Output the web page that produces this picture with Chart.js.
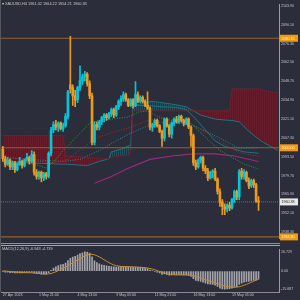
<!DOCTYPE html>
<html><head><meta charset="utf-8">
<script src="https://cdn.jsdelivr.net/npm/chart.js"></script>
<style>
html,body{margin:0;padding:0;background:#2b2d3a;overflow:hidden;}
#wrap{position:relative;width:300px;height:300px;background:#2b2d3a;}
#c1{position:absolute;left:0;top:0;}
#c2{position:absolute;left:0;top:245px;}
.t{position:absolute;font:8px "Liberation Sans",Arial,sans-serif;color:#c8c8c8;transform:scale(0.48);transform-origin:0 0;white-space:nowrap;}
.sep{position:absolute;left:0;width:280px;}
</style></head>
<body><div id="wrap">
<canvas id="c1" width="300" height="243"></canvas>
<canvas id="c2" width="300" height="55"></canvas>
<div class="sep" style="top:243px;height:1px;background:#8c8c92"></div>
<div class="sep" style="top:245px;height:1px;background:#a4a4aa"></div>
<div style="position:absolute;left:0;top:0;width:1px;height:292px;background:#55575f"></div>
<div class="t" style="left:2px;top:2px">▾ XAUUSD,H4 1961.02 1964.22 1954.21 1960.38</div>
<div class="t" style="left:2px;top:247px">MACD(12,26,9) -6.948 -4.739</div>
</div>
<script>
// ---------- DATA ----------
const openP = [1999,1992,1988,1991,1986,1989,1984,1988,1990,1987,
 1991,1993,1990,1995,1982,1979,1982,1978,1981,1979,
 1996,2013,2017,2015,2018,2014,2016,2023,2046,2044,
 2038,2035,2044,2049,2052,2054,2047,2038,2004,2017,
 2015,2019,2022,2024,2022,2025,2028,2024,2030,2034,
 2036,2039,2035,2031,2035,2031,2039,2034,2037,2034,
 2031,2029,2015,2017,2020,2016,2012,2007,2021,2016,
 2010,2018,2021,2019,2023,2020,2018,2021,2015,2009,
 1989,1986,1991,1993,1985,1983,1978,1982,1983,1977,
 1968,1960,1957,1955,1958,1956,1962,1968,1964,1983,
 1979,1982,1976,1972,1976,1973,1961.02];
const closeP = [1992,1988,1991,1986,1989,1984,1988,1990,1987,1991,
 1993,1990,1995,1982,1979,1982,1978,1981,1979,1996,
 2013,2017,2015,2018,2014,2016,2023,2041,2043,2038,
 2035,2044,2049,2052,2054,2047,2038,2004,2017,2015,
 2019,2022,2024,2022,2025,2028,2024,2030,2034,2036,
 2039,2035,2031,2035,2031,2039,2034,2037,2034,2031,
 2029,2015,2017,2020,2016,2012,2007,2021,2016,2010,
 2018,2021,2019,2023,2020,2018,2021,2015,2009,1989,
 1986,1991,1993,1985,1983,1978,1982,1983,1977,1968,
 1960,1957,1955,1958,1956,1962,1968,1964,1983,1979,
 1982,1976,1972,1976,1973,1961,1960.38];
const highP = [2001,1994,1993,1992,1990,1990,1989,1993,1991,1992,
 1996,1994,1998,1997,1984,1983,1983,1982,1982,1997,
 2015,2019,2020,2019,2019,2018,2025,2042,2081.5,2046,
 2042,2045,2060,2054,2056,2055,2049,2040,2019,2019,
 2020,2023,2025,2025,2026,2029,2029,2031,2035,2038,
 2041,2040,2036,2036,2036,2048.5,2041,2038,2038,2035,
 2041,2030,2018,2021,2021,2017,2013,2022,2022,2017,
 2019,2022,2023,2024,2024,2021,2022,2022,2016,2010,
 1991,1992,1994,1994,1987,1985,1983,1984,1985,1978,
 1970,1962,1959,1959,1960,1963,1969,1969,1984,1985,
 1984,1983,1978,1977,1977,1974,1964.22];
const lowP = [1990,1986,1987,1984,1984,1982,1983,1987,1985,1986,
 1990,1988,1989,1980,1977,1977,1975,1976,1977,1978,
 1994,2011,2013,2012,2013,2012,2015,2021,2040,2031,
 2030,2033,2042,2046,2049,2045,2036,2002,2002,2013,
 2013,2017,2019,2020,2021,2023,2022,2023,2028,2031,
 2034,2034,2030,2030,2029,2030,2033,2033,2033,2030,
 2028,2013,2012,2015,2015,2011,2001,2005,2015,2008,
 2007,2016,2018,2018,2019,2016,2017,2014,2001,1987,
 1984,1985,1989,1983,1981,1976,1977,1978,1976,1966,
 1957,1951,1951,1953,1954,1955,1960,1962,1962,1977,
 1977,1975,1970,1971,1971,1960,1954.21];

// moving averages (bar index, value)
const maFastIdx = [0,5,10,15,18,22,25,30,36,40,45,52,56,60,63,67,72,78,82,85,90,96,100,106];
const maFastVal = [1992,1990,1989,1987,1985,1991.5,1998,2007,2018,2020,2021,2022.5,2026,2027,2024,2021,2019,2018,2011,2006,1998,1992,1988,1984.4];
const maMidIdx = [0,10,20,27,33,40,47,53,60,65,72,79,85,90,98,106];
const maMidVal = [1994,1991,1989,1991.5,2000,2008,2012,2015,2020,2022,2020,2016,2011,2005,1996.5,1993.7];
const maSlowIdx = [0,15,25,32,40,47,53,60,65,72,79,89,98,106];
const maSlowVal = [1993,1991,1990,1991.5,1998,2005,2010.7,2016,2018.6,2018,2016.4,2008,1999.5,2000];
const maLongIdx = [38,45,52,61,70,79,88,96,106];
const maLongVal = [1974,1979,1985,1991.5,1994,1995.5,1995.5,1994,1990];
// ichimoku
const cloudIdx = [0,10,25,26,35,40,44,45,49,53,54,62,70,76,82,88,94,95,98,102,107,108,114];
const spanA = [1990,1989,1988,1988,1987,1990,1992,1997,1999,2002,2031,2034,2032,2030,2024,2021,2020,2020,2019,2012,2005,2004,1998];
const spanB = [2009,2009,2009,1994,1993,1992,1992,1993,1994,1995,2027,2027,2027,2027,2027,2027,2027,2043,2043,2043,2043,2042,2040];
const kijunIdx = [54,60,66,72,76,80,84,88,92,96,100,106];
const kijunVal = [2031,2031,2030,2029.5,2028,2021,2013,2005,2001,1999,1997,1996];

const levelVals = [2080.15, 2000.00, 1934.80];
const lastPrice = 1960.38;
const tagVals = [2080.15, 2000.00, 1960.38, 1934.80];
const tagText = ['2080.15','2000.00','1960.38','1934.80'];
const yTicks = [2103.90,2090.10,2076.30,2062.50,2048.70,2034.90,2021.10,2007.30,1993.50,1979.70,1965.90,1952.10,1938.30];

const macdMain = [-0.5,-0.8,-1.0,-1.3,-1.4,-1.6,-1.6,-1.5,-1.5,-1.4,
 -1.2,-1.1,-0.8,-1.4,-2.0,-2.3,-2.6,-2.6,-2.6,-1.3,
 0.8,2.6,3.8,4.9,5.4,5.9,6.9,9.2,11.2,12.3,
 12.9,14.0,15.2,16.0,16.7,16.5,15.6,12.4,9.0,7.5,
 6.3,5.5,5.0,4.5,4.2,4.0,3.7,3.6,3.8,4.0,
 4.2,4.0,3.7,3.5,3.2,3.5,3.3,3.2,3.0,2.6,
 2.2,1.0,0.3,-0.3,-0.9,-1.6,-2.8,-2.4,-2.8,-3.6,
 -3.4,-3.1,-3.1,-2.9,-3.0,-3.3,-3.2,-3.7,-4.6,-6.6,
 -8.0,-8.5,-8.9,-9.7,-10.4,-11.2,-11.4,-11.6,-12.2,-13.4,
 -14.8,-15.5,-15.7,-15.5,-15.3,-14.8,-14.0,-13.6,-11.6,-10.4,
 -9.6,-9.2,-9.0,-8.5,-8.1,-7.6,-6.9];
const macdSignal = [0.3,0.1,-0.1,-0.3,-0.5,-0.7,-0.9,-1.0,-1.2,-1.3,
 -1.4,-1.4,-1.5,-1.7,-1.9,-2.1,-2.3,-2.4,-2.5,-2.4,
 -2.0,-1.4,-0.6,0.4,1.4,2.4,3.5,4.7,6.0,7.3,
 8.5,9.8,11.0,12.2,13.3,14.1,14.6,14.6,14.2,13.4,
 12.4,11.2,9.9,8.6,7.4,6.3,5.4,4.8,4.4,4.1,
 4.0,3.9,3.9,3.8,3.7,3.6,3.5,3.4,3.2,3.0,
 2.7,2.3,1.8,1.2,0.5,-0.3,-1.0,-1.6,-2.2,-2.7,
 -3.0,-3.2,-3.3,-3.3,-3.3,-3.3,-3.3,-3.4,-3.6,-4.1,
 -4.7,-5.4,-6.1,-6.8,-7.5,-8.2,-8.9,-9.6,-10.3,-11.0,
 -11.7,-12.4,-13.0,-13.4,-13.7,-13.9,-14.0,-13.9,-13.6,-13.0,
 -12.3,-11.5,-10.6,-9.7,-8.8,-7.9,-7.1];
const macdTicks = [16.729, 0, -15.687];
const macdTickText = ['16.729','0.00','-15.687'];

const xTickIdx = [0,15,31,47,63,79,95];
const xTickText = ['27 Apr 2023','1 May 21:00','4 May 13:00','9 May 05:00','11 May 21:00','16 May 13:00','19 May 05:00'];

// ---------- RENDER ----------
const X_MIN = -0.746, X_MAX = 114.49;
const Y_MIN = 1933.35, Y_MAX = 2105.11;
const BULL = '#00c8dc', BEAR = '#eb9a22';
const TXT = '#c4c4c8';
const FONT = {size:3.6, family:'Liberation Sans'};
const pts = (idx, vals) => idx.map((x,i)=>({x, y: vals[i]}));
const ctx1 = document.getElementById('c1').getContext('2d');
function tile(color){ const c=document.createElement('canvas'); c.width=2; c.height=1; const g=c.getContext('2d'); g.fillStyle=color; g.fillRect(0,0,1,1); return ctx1.createPattern(c,'repeat'); }
const redHatch = tile('rgba(118,24,40,0.8)');
const tealHatch = tile('rgba(30,100,110,0.65)');

const bullish = openP.map((o,i)=>closeP[i]>=o);
const candleColors = bullish.map(b=>b?BULL:BEAR);
const lineDs = (data, color, width, dash, order) => ({type:'line', data, borderColor:color, borderWidth:width, borderDash:dash, pointRadius:0, tension:0, fill:false, order});

const tagPlugin = {
  id:'tags',
  afterDraw(chart){
    const ys = chart.scales.y, c = chart.ctx;
    c.save();
    c.font = '3.6px "Liberation Sans"';
    c.textBaseline = 'middle';
    tagVals.forEach((v,i)=>{
      const y = ys.getPixelForValue(v);
      const isLast = v === lastPrice;
      c.fillStyle = isLast ? '#e8e8e8' : '#f09a10';
      c.fillRect(280, y-3.5, 18, 7);
      c.fillStyle = isLast ? '#1a1a1a' : '#fff4e0';
      c.fillText(tagText[i], 281.5, y+0.3);
    });
    c.restore();
  }
};

new Chart(ctx1, {
  type:'bar',
  data:{datasets:[
    Object.assign(lineDs(pts(cloudIdx, spanA), '#1d7480', 1, [], 30), {fill:{target:'+1', above:tealHatch, below:redHatch}}),
    lineDs(pts(cloudIdx, spanB), '#6e2030', 1, [], 29),
    lineDs(pts(kijunIdx, kijunVal), '#1d7480', 1, [], 25),
    ...levelVals.map(v => lineDs([{x:X_MIN,y:v},{x:X_MAX,y:v}], '#93602e', 1.2, [], 20)),
    lineDs([{x:X_MIN,y:lastPrice},{x:X_MAX,y:lastPrice}], '#6e6e78', 1, [1,1], 20),
    lineDs(pts(maLongIdx, maLongVal), '#a0287a', 1.1, [], 12),
    lineDs(pts(maSlowIdx, maSlowVal), '#238a96', 1, [1,1.5], 11),
    lineDs(pts(maMidIdx, maMidVal), '#a03030', 1, [1,1.5], 10),
    lineDs(pts(maFastIdx, maFastVal), '#2f9a40', 1, [1,1.5], 9),
    {type:'bar', data: lowP.map((l,i)=>({x:i, y:[l, highP[i]]})), backgroundColor:candleColors, barThickness:1, grouped:false, borderWidth:0, order:3},
    {type:'bar', data: openP.map((o,i)=>({x:i, y:[o, closeP[i]]})), backgroundColor:candleColors, barThickness:2, grouped:false, borderWidth:0, order:2, minBarLength:1}
  ]},
  options:{
    responsive:false, animation:false, devicePixelRatio:1,
    layout:{padding:{left:1,right:0,top:0,bottom:1}, autoPadding:false},
    plugins:{legend:{display:false}, tooltip:{enabled:false}},
    scales:{
      x:{type:'linear', min:X_MIN, max:X_MAX, offset:false, display:false},
      y:{position:'right', min:Y_MIN, max:Y_MAX,
         afterFit:s=>{s.width=21;},
         afterBuildTicks:s=>{s.ticks=yTicks.map(v=>({value:v}));},
         ticks:{color:TXT, font:FONT, padding:2, autoSkip:false, callback:v=>Number(v).toFixed(2)},
         grid:{drawOnChartArea:false, drawTicks:false},
         border:{display:true, color:'#9c9ca4', width:1}}
    }
  },
  plugins:[tagPlugin]
});

new Chart(document.getElementById('c2').getContext('2d'), {
  type:'bar',
  data:{datasets:[
    lineDs(pts(macdMain.map((_,i)=>i), macdSignal), '#c88c28', 1, [], 1),
    {type:'bar', data: macdMain.map((v,i)=>({x:i, y:v})), backgroundColor:'#a4a4aa', barThickness:1, grouped:false, borderWidth:0, order:2}
  ]},
  options:{
    responsive:false, animation:false, devicePixelRatio:1,
    layout:{padding:{left:1,right:0,top:1,bottom:0}, autoPadding:false},
    plugins:{legend:{display:false}, tooltip:{enabled:false}},
    scales:{
      x:{type:'linear', min:X_MIN, max:X_MAX, offset:false, position:'bottom',
         afterFit:s=>{s.height=8;},
         afterBuildTicks:s=>{s.ticks=xTickIdx.map(v=>({value:v}));},
         ticks:{color:TXT, font:FONT, padding:0, align:'start', maxRotation:0, autoSkip:false, callback:(v,i)=>xTickText[i]},
         grid:{drawOnChartArea:false, drawTicks:true, tickLength:1, color:'#8a8a90'},
         border:{display:true, color:'#8a8a90', width:1}},
      y:{position:'right', min:-18.15, max:19.1,
         afterFit:s=>{s.width=21;},
         afterBuildTicks:s=>{s.ticks=macdTicks.map(v=>({value:v}));},
         ticks:{color:TXT, font:FONT, padding:2, autoSkip:false, callback:(v,i)=>macdTickText[i]},
         grid:{drawOnChartArea:false, drawTicks:false},
         border:{display:true, color:'#9c9ca4', width:1}}
    }
  }
});
</script>
</body></html>
